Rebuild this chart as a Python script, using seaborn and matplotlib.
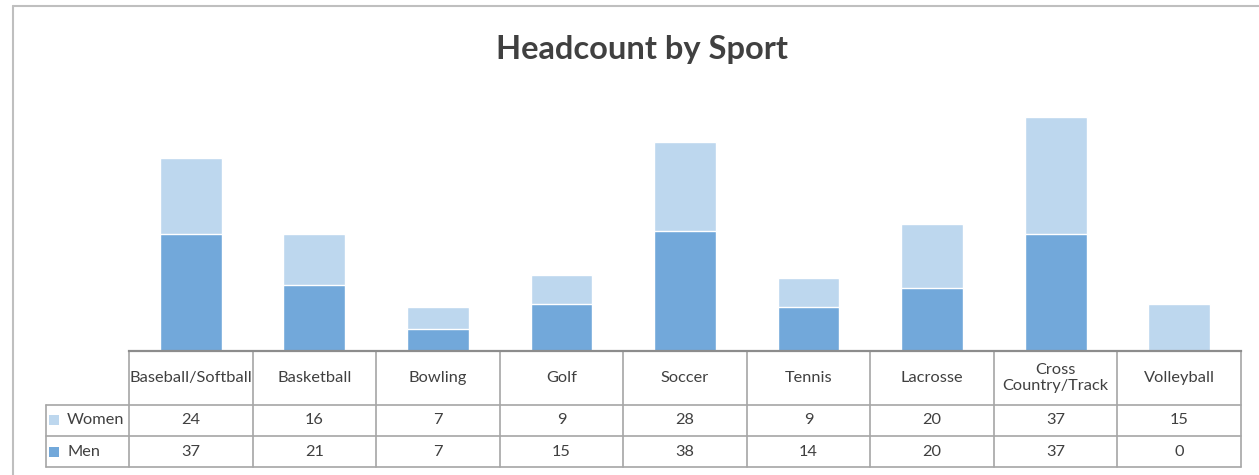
import matplotlib
matplotlib.use("Agg")
import matplotlib.pyplot as plt
import matplotlib.transforms as mtransforms
from matplotlib.lines import Line2D
import seaborn as sns
import pandas as pd

# ---- data ----
sports = ["Baseball/Softball", "Basketball", "Bowling", "Golf", "Soccer",
          "Tennis", "Lacrosse", "Cross\nCountry/Track", "Volleyball"]
women = [24, 16, 7, 9, 28, 9, 20, 37, 15]
men = [37, 21, 7, 15, 38, 14, 20, 37, 0]

MEN_COLOR = "#72A8DA"
WOMEN_COLOR = "#BDD7EE"
TEXT_COLOR = "#404040"
LINE_COLOR = "#A6A6A6"

sns.set_theme(style="white")
plt.rcParams["font.family"] = ["Lato", "DejaVu Sans"]

W, H = 1259, 475
fig = plt.figure(figsize=(W / 100, H / 100), dpi=100)
ax = fig.add_axes([129 / W, 1 - 351 / H, (1241 - 129) / W, 253 / H])

df = pd.DataFrame({"Sport": sports, "Women": women, "Men": men})
df["Total"] = df["Women"] + df["Men"]

# stacked bars: total (women on top) then men underneath
sns.barplot(data=df, x="Sport", y="Total", color=WOMEN_COLOR, width=0.5,
            saturation=1, edgecolor="white", linewidth=1, ax=ax)
sns.barplot(data=df, x="Sport", y="Men", color=MEN_COLOR, width=0.5,
            saturation=1, edgecolor="white", linewidth=1, ax=ax)

ax.set_xlim(-0.5, 8.5)
ax.set_ylim(0, 80)
ax.set_xlabel("")
ax.set_ylabel("")
ax.set_xticks([])
ax.set_yticks([])
for s in ["left", "right", "top"]:
    ax.spines[s].set_visible(False)
ax.spines["bottom"].set_color("#8C8C8C")
ax.spines["bottom"].set_linewidth(1.6)

# ---- data table below the bars ----
tr = mtransforms.blended_transform_factory(ax.transData, ax.transAxes)
y0, y1, y2, y3 = 0.0, -0.2134, -0.336, -0.4585
xl = -1.1715
n = len(sports)
lk = dict(color=LINE_COLOR, lw=1.2, transform=tr, clip_on=False)
for i in range(n + 1):
    ax.plot([i - 0.5, i - 0.5], [y0, y3], **lk)
ax.plot([xl, xl], [y1, y3], **lk)
for yy in (y1, y2, y3):
    ax.plot([xl, n - 0.5], [yy, yy], **lk)

tk = dict(ha="center", va="center", color=TEXT_COLOR, fontsize=11.8, transform=tr)
for i, sp in enumerate(sports):
    ax.text(i, (y0 + y1) / 2, sp, linespacing=1.1, **tk)
    ax.text(i, (y1 + y2) / 2, str(women[i]), **tk)
    ax.text(i, (y2 + y3) / 2, str(men[i]), **tk)

for (label, col, ya, yb) in [("Women", WOMEN_COLOR, y1, y2), ("Men", MEN_COLOR, y2, y3)]:
    ax.scatter([-1.105], [(ya + yb) / 2], marker="s", s=50, color=col,
               transform=tr, clip_on=False, linewidths=0)
    ax.text(-1.0016, (ya + yb) / 2, label, ha="left", va="center",
            color=TEXT_COLOR, fontsize=11.8, transform=tr)

# ---- title and outer frame ----
fig.text(642 / W, 1 - 49 / H, "Headcount by Sport", ha="center", va="center",
         fontsize=23.5, fontweight="bold", color=TEXT_COLOR)
fig.add_artist(Line2D([12.5 / W, 1], [1 - 5.5 / H, 1 - 5.5 / H],
                      transform=fig.transFigure, color="#BFBFBF", lw=1.5))
fig.add_artist(Line2D([12.5 / W, 12.5 / W], [0, 1 - 5.5 / H],
                      transform=fig.transFigure, color="#BFBFBF", lw=1.5))

fig.savefig("out.png", dpi=100)
